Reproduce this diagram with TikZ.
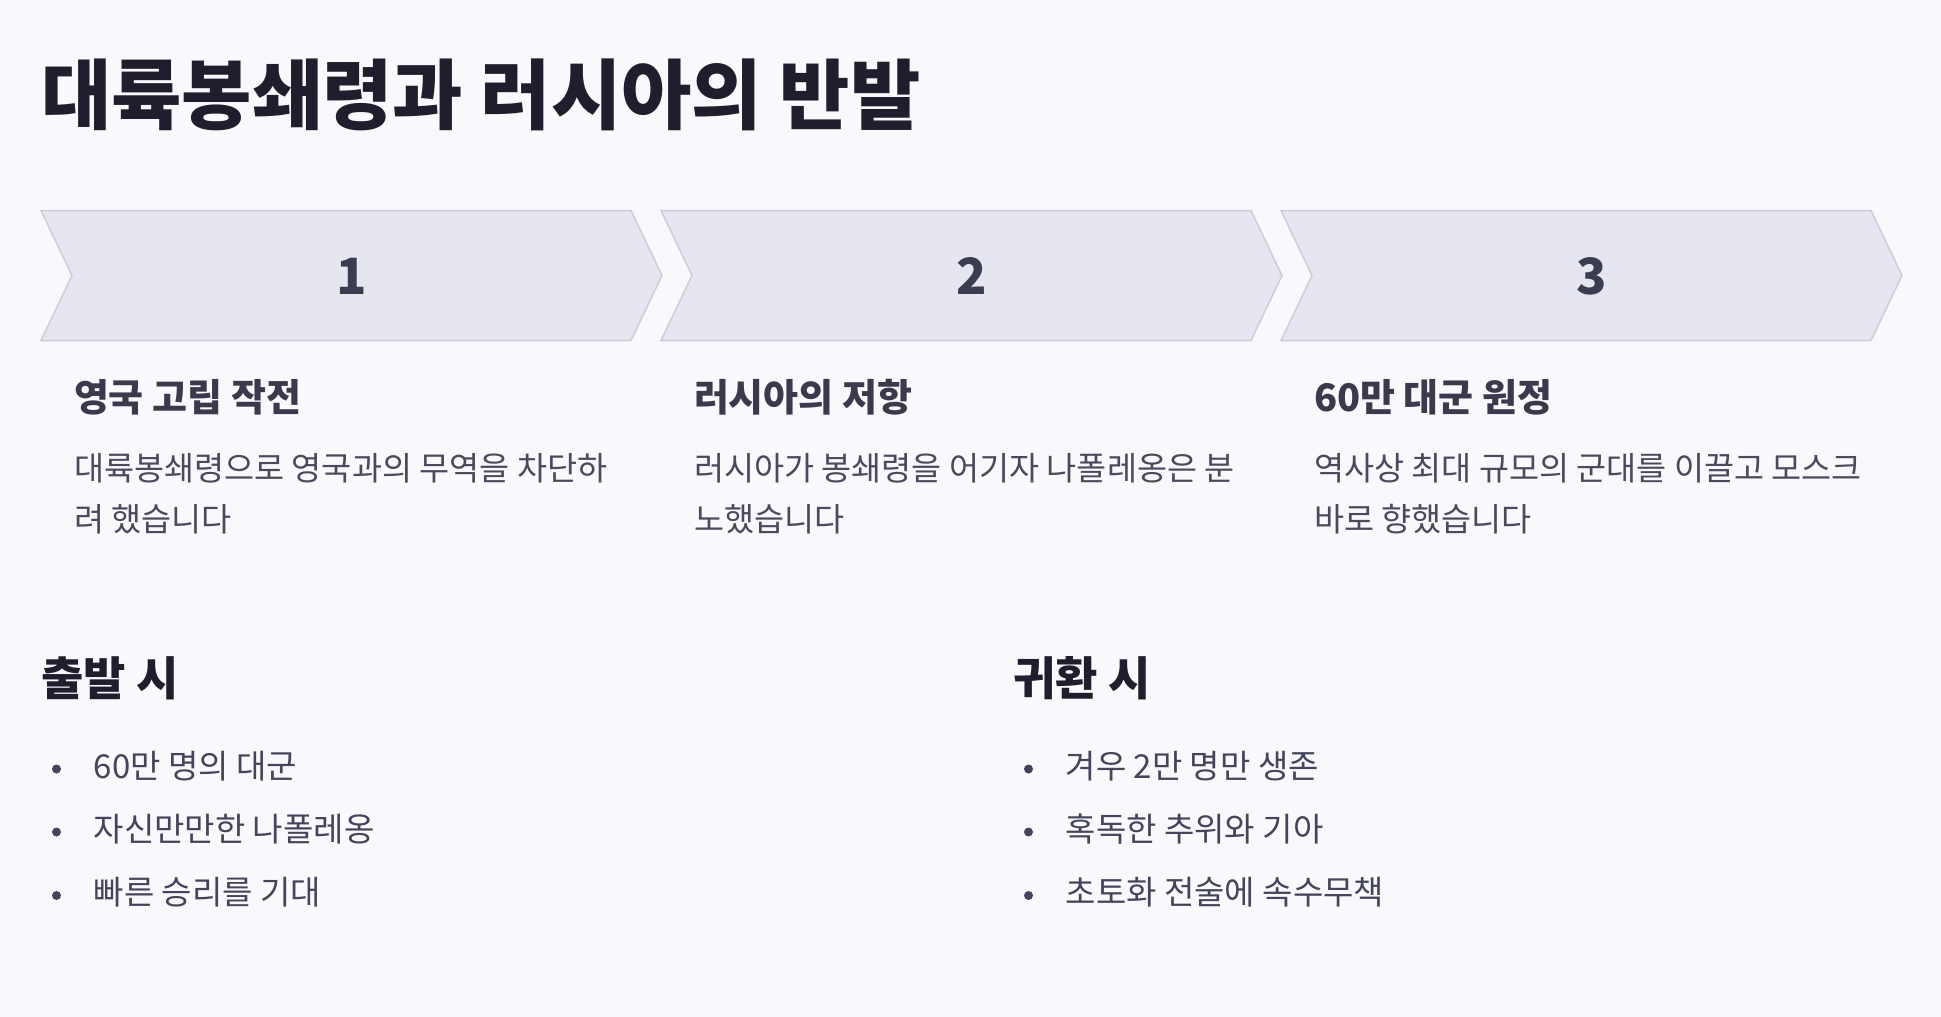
\documentclass[tikz,border=0pt]{standalone}
\usepackage{fontspec}
\setmainfont{Noto Sans CJK KR}
\definecolor{bg}{HTML}{F8F8FD}
\definecolor{titlec}{HTML}{1E1E2C}
\definecolor{chevfill}{HTML}{E6E6F1}
\definecolor{chevline}{HTML}{CDCDD9}
\definecolor{numc}{HTML}{3C3C50}
\definecolor{headc}{HTML}{3A3A4C}
\definecolor{bodyc}{HTML}{4A4A5C}
\definecolor{bulc}{HTML}{44445A}
\tikzset{
  chevron/.style={fill=chevfill, draw=chevline, line width=1.5pt, line join=miter},
  titletxt/.style={anchor=west, text=titlec, font=\fontsize{76.5}{90}\selectfont\bfseries},
  numtxt/.style={text=numc, font=\fontsize{50}{60}\selectfont\bfseries},
  headtxt/.style={anchor=west, text=headc, font=\fontsize{38}{46}\selectfont\bfseries},
  bodytxt/.style={anchor=west, text=bodyc, font=\fontsize{32.7}{40}\selectfont},
  sectxt/.style={anchor=west, text=titlec, font=\fontsize{46}{55}\selectfont\bfseries},
  bultxt/.style={anchor=west, text=bulc, font=\fontsize{33}{40}\selectfont},
  buldot/.style={circle, fill=bulc, minimum size=9pt},
}
\begin{document}
\begin{tikzpicture}[x=1pt, y=-1pt, every node/.style={inner sep=0pt, outer sep=0pt}]
\fill[bg] (0,0) rectangle (1941,1017);
\useasboundingbox (0,0) rectangle (1941,1017);

\node[titletxt] (title) at (41,95) {대륙봉쇄령과 러시아의 반발};

\foreach \L/\n/\h/\a/\b [count=\i] in {
  41/1/{영국 고립 작전}/{대륙봉쇄령으로 영국과의 무역을 차단하}/{려 했습니다},
  661/2/{러시아의 저항}/{러시아가 봉쇄령을 어기자 나폴레옹은 분}/{노했습니다},
  1281/3/{60만 대군 원정}/{역사상 최대 규모의 군대를 이끌고 모스크}/{바로 향했습니다}} {
  \draw[chevron] (\L,210.5) -- ++(590,0) -- ++(31,65) -- ++(-31,65) -- ++(-590,0) -- ++(31,-65) -- cycle;
  \node[numtxt] (num\i) at (\L+310.5,276) {\n};
  \node[headtxt] (head\i) at (\L+33,397.5) {\h};
  \node[bodytxt] (bodyA\i) at (\L+33,468) {\a};
  \node[bodytxt] (bodyB\i) at (\L+33,519) {\b};
}

\node[sectxt] (secA) at (41,678) {출발 시};
\node[sectxt] (secB) at (1013,678) {귀환 시};

\foreach \t/\y [count=\i] in {{60만 명의 대군}/766, {자신만만한 나폴레옹}/829, {빠른 승리를 기대}/892.5} {
  \node[buldot] (dotA\i) at (56.5,\y+3) {};
  \node[bultxt] (bulA\i) at (93.75,\y) {\t};
}
\foreach \t/\y [count=\i] in {{겨우 2만 명만 생존}/766, {혹독한 추위와 기아}/829, {초토화 전술에 속수무책}/892.5} {
  \node[buldot] (dotB\i) at (1028.5,\y+3) {};
  \node[bultxt] (bulB\i) at (1065.75,\y) {\t};
}
\end{tikzpicture}
\end{document}
